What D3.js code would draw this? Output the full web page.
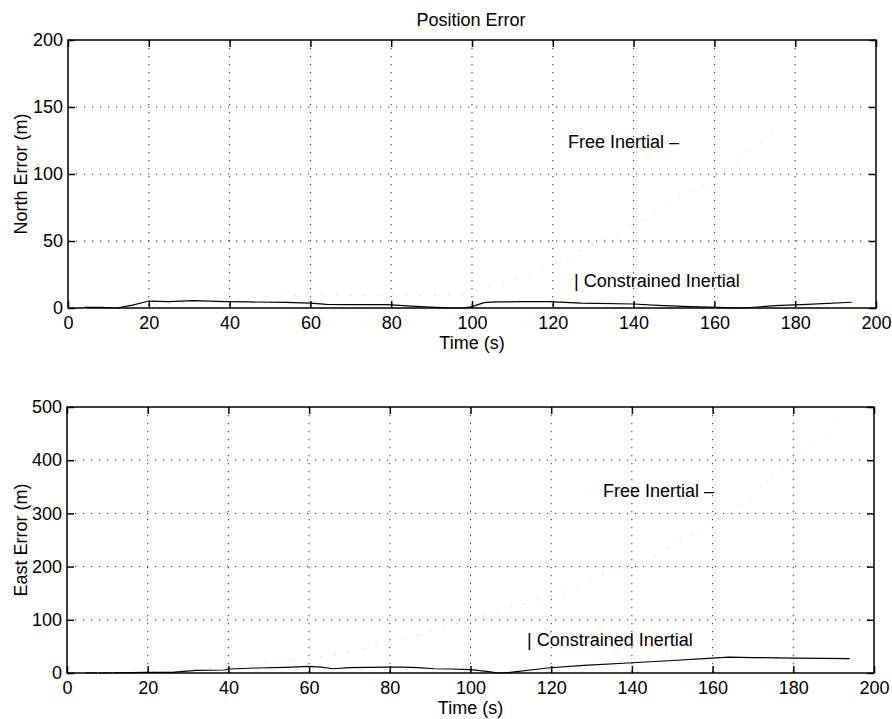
<!DOCTYPE html>
<html>
<head>
<meta charset="utf-8">
<script src="https://cdn.jsdelivr.net/npm/d3@7"></script>
<style>
  html, body { margin: 0; padding: 0; background: #fff; }
  svg text { font-family: "Liberation Sans", Arial, Helvetica, sans-serif; fill: #000; }
</style>
</head>
<body>
<svg id="chart" width="892" height="719"></svg>
<script>
// Time axis ticks (s)
const timeTicks = [0, 20, 40, 60, 80, 100, 120, 140, 160, 180, 200];
const northTicks = [0, 50, 100, 150, 200];
const eastTicks = [0, 100, 200, 300, 400, 500];

// North position error, constrained inertial solution
const northConstrainedT = [4, 8, 12, 16, 20, 25, 31, 39, 45, 54, 60, 64, 70, 79, 83, 87, 91, 95, 98, 100, 103, 106, 112, 119, 127, 140, 146, 154, 163, 167, 175, 183, 194];
const northConstrainedV = [0.5, 0.5, 0, 2.2, 5.2, 4.7, 5.5, 4.7, 4.5, 4.2, 3.7, 2.7, 2.5, 2.5, 1.7, 1, 0.5, 0, 0, 1, 4, 4.5, 4.7, 4.7, 3.7, 3, 2, 1, 0.3, 0, 1.7, 2.7, 4.3];

// North position error, free inertial solution
const northFreeT = [4, 20, 40, 60, 80, 98, 116, 125, 142, 151, 158, 175];
const northFreeV = [0, 2, 7, 10, 9, 10, 27, 40, 65, 82, 93, 131];

// East position error, constrained inertial solution
const eastConstrainedT = [4, 12, 20, 26, 32, 39, 40, 47, 54, 60, 63, 66, 70, 79, 83, 87, 91, 95, 100, 104, 107, 109, 119, 128, 139, 149, 160, 164, 170, 180, 194];
const eastConstrainedV = [0, 0.5, 1, 1, 5, 5.6, 7.5, 9.4, 10.6, 12.5, 11, 8, 10, 11, 11, 10, 8, 7.5, 6.2, 3, 0, 0.6, 9.4, 14.4, 18.8, 23, 28, 30, 29, 28, 27];

// East position error, free inertial solution
const eastFreeT = [4, 20, 35, 52, 66, 72, 82, 100, 125, 137, 144, 151, 165, 182, 192];
const eastFreeV = [0, 2, 8, 19, 34, 43, 62, 100, 156, 199, 214, 240, 306, 410, 479];

const svg = d3.select("#chart");
const FONT = 18;

function panel(opts) {
  const x = d3.scaleLinear().domain([0, 200]).range([opts.left, opts.right]);
  const y = d3.scaleLinear().domain([0, opts.yMax]).range([opts.bottom, opts.top]);
  const g = svg.append("g");

  // dotted grid
  const grid = g.append("g").attr("stroke", "#000").attr("stroke-width", 1)
    .attr("stroke-dasharray", "1.2,6.8").attr("opacity", 0.85);
  timeTicks.filter(t => t > 0 && t < 200).forEach(t => {
    grid.append("line").attr("x1", x(t)).attr("x2", x(t))
      .attr("y1", opts.top).attr("y2", opts.bottom);
  });
  opts.yTicks.filter(v => v > 0 && v < opts.yMax).forEach(v => {
    grid.append("line").attr("x1", opts.left).attr("x2", opts.right)
      .attr("y1", y(v)).attr("y2", y(v));
  });

  // axes with inward ticks
  const bottomAxis = g.append("g").attr("transform", `translate(0,${opts.bottom})`)
    .call(d3.axisBottom(x).tickValues(timeTicks).tickSize(-7).tickSizeOuter(0).tickPadding(8));
  const topAxis = g.append("g").attr("transform", `translate(0,${opts.top})`)
    .call(d3.axisTop(x).tickValues(timeTicks).tickSize(-7).tickSizeOuter(0).tickFormat(""));
  const leftAxis = g.append("g").attr("transform", `translate(${opts.left},0)`)
    .call(d3.axisLeft(y).tickValues(opts.yTicks).tickSize(-7).tickSizeOuter(0).tickPadding(5));
  const rightAxis = g.append("g").attr("transform", `translate(${opts.right},0)`)
    .call(d3.axisRight(y).tickValues(opts.yTicks).tickSize(-7).tickSizeOuter(0).tickFormat(""));
  [bottomAxis, topAxis, leftAxis, rightAxis].forEach(a => {
    a.select(".domain").remove();
    a.selectAll(".tick line").attr("stroke", "#000").attr("stroke-width", 1.5);
    a.selectAll("text").attr("font-size", FONT)
      .style("font-family", '"Liberation Sans", Arial, Helvetica, sans-serif');
  });

  // frame
  g.append("rect").attr("x", opts.left).attr("y", opts.top)
    .attr("width", opts.right - opts.left).attr("height", opts.bottom - opts.top)
    .attr("fill", "none").attr("stroke", "#000").attr("stroke-width", 1.5);

  // series
  const line = d3.line().x(d => x(d[0])).y(d => y(d[1]));
  g.append("path").datum(d3.zip(opts.freeT, opts.freeV))
    .attr("d", line).attr("fill", "none").attr("stroke", "#dcdcdc")
    .attr("stroke-width", 1).attr("stroke-dasharray", "2,12");
  g.append("path").datum(d3.zip(opts.conT, opts.conV))
    .attr("d", line).attr("fill", "none").attr("stroke", "#000")
    .attr("stroke-width", 1.2);

  // axis labels
  g.append("text").attr("x", (opts.left + opts.right) / 2).attr("y", opts.bottom + 41)
    .attr("text-anchor", "middle").attr("font-size", FONT).text("Time (s)");
  g.append("text")
    .attr("transform", `translate(27,${(opts.top + opts.bottom) / 2}) rotate(-90)`)
    .attr("text-anchor", "middle").attr("font-size", FONT).text(opts.yLabel);

  // curve annotations
  g.append("text").attr("x", opts.freeLabel[0]).attr("y", opts.freeLabel[1])
    .attr("font-size", FONT).text("Free Inertial –");
  g.append("text").attr("x", opts.conLabel[0]).attr("y", opts.conLabel[1])
    .attr("font-size", FONT).text("| Constrained Inertial");
}

panel({
  left: 68, right: 876, top: 40, bottom: 308, yMax: 200, yTicks: northTicks,
  yLabel: "North Error (m)",
  conT: northConstrainedT, conV: northConstrainedV,
  freeT: northFreeT, freeV: northFreeV,
  freeLabel: [568, 148], conLabel: [574, 287]
});

panel({
  left: 67, right: 874, top: 407, bottom: 673, yMax: 500, yTicks: eastTicks,
  yLabel: "East Error (m)",
  conT: eastConstrainedT, conV: eastConstrainedV,
  freeT: eastFreeT, freeV: eastFreeV,
  freeLabel: [603, 497], conLabel: [527, 646]
});

// figure title
svg.append("text").attr("x", 471).attr("y", 26).attr("text-anchor", "middle")
  .attr("font-size", FONT).text("Position Error");
</script>
</body>
</html>
